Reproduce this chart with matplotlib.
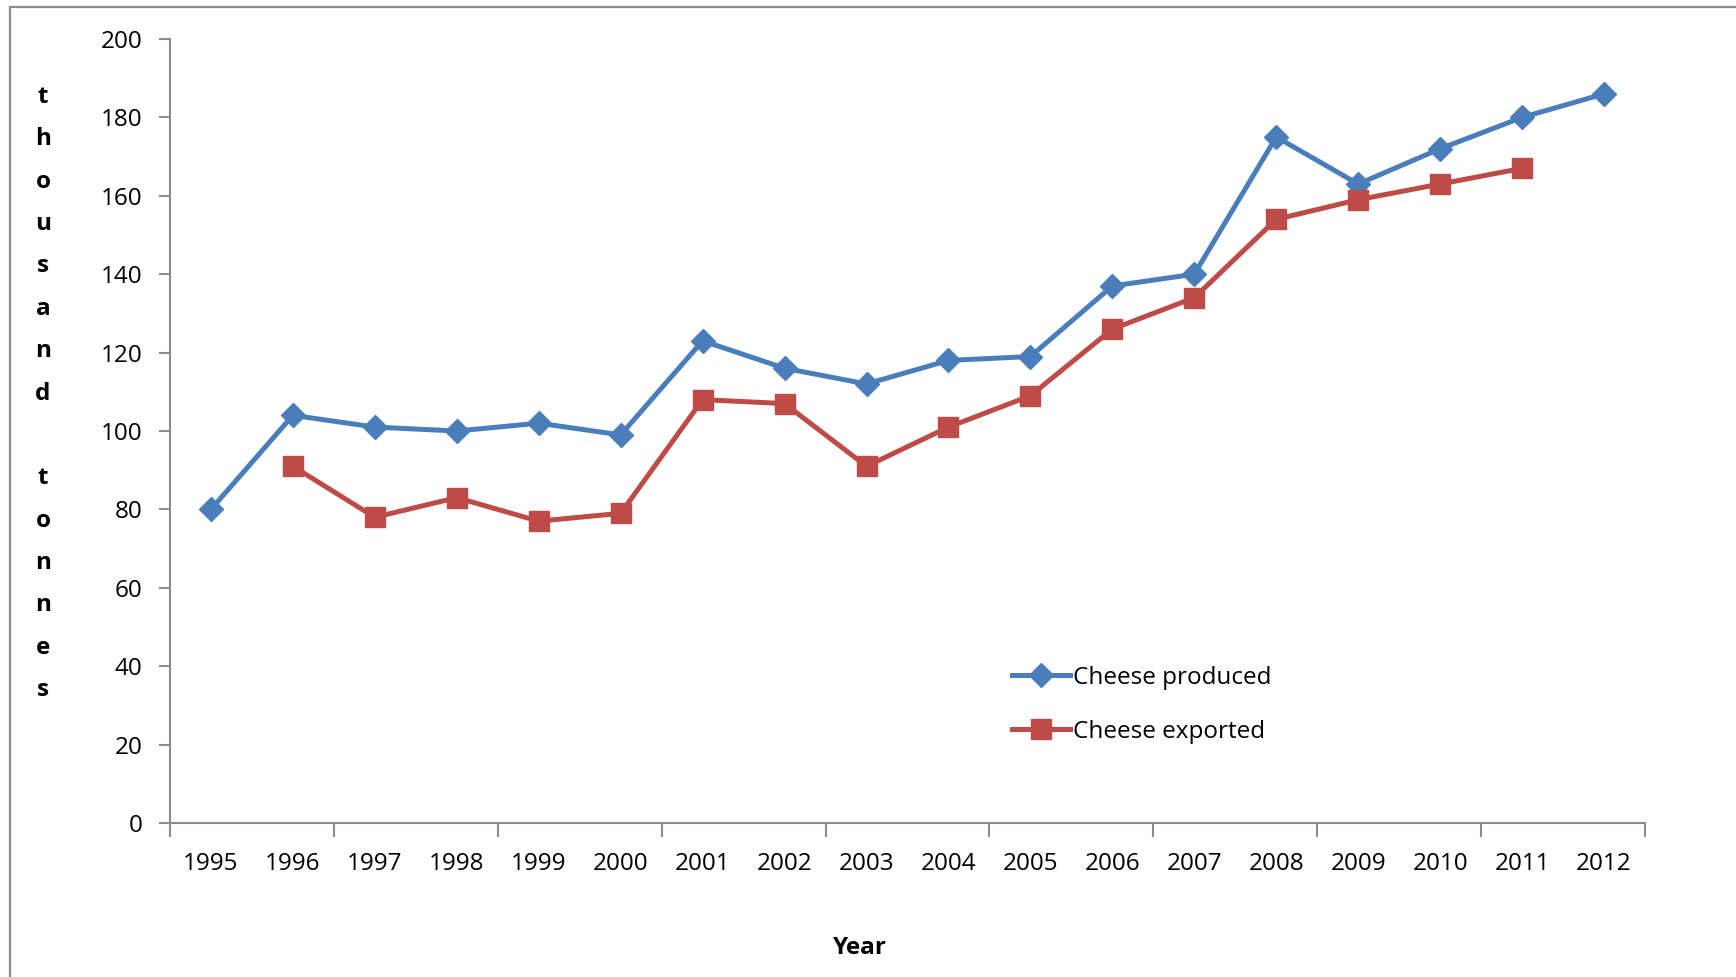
import matplotlib.pyplot as plt
from matplotlib.patches import Rectangle
import numpy as np

years = ['1995', '1996', '1997', '1998', '1999', '2000', '2001', '2002', '2003',
         '2004', '2005', '2006', '2007', '2008', '2009', '2010', '2011', '2012']
produced = [80, 104, 101, 100, 102, 99, 123, 116, 112, 118, 119, 137, 140, 175,
            163, 172, 180, 186]
exported = [np.nan, 91, 78, 83, 77, 79, 108, 107, 91, 101, 109, 126, 134, 154,
            159, 163, 167, np.nan]

plt.rcParams['font.family'] = ['Open Sans', 'DejaVu Sans']
fs = 17.5

fig = plt.figure(figsize=(17.36, 9.77), dpi=100)
ax = fig.add_axes([0.0979, 0.1576, 0.8497, 0.8025])

x = np.arange(len(years))
ax.plot(x, produced, color='#4A7EBB', lw=3.6, marker='D', markersize=12,
        label='Cheese produced')
ax.plot(x, exported, color='#BE4B48', lw=3.6, marker='s', markersize=15,
        label='Cheese exported')

ax.set_xlim(-0.5, len(years) - 0.5)
ax.set_ylim(0, 200)
ax.set_yticks(range(0, 201, 20))

# tick marks every two years on the boundaries, labels centred under points
ax.set_xticks(np.arange(-0.5, len(years), 2))
ax.set_xticklabels([])
ax.set_xticks(x, minor=True)
ax.set_xticklabels(years, minor=True)
ax.tick_params(axis='x', which='major', direction='out', length=10, width=1.5,
               color='#8c8c8c')
ax.tick_params(axis='x', which='minor', length=0, pad=21, labelsize=fs)
ax.tick_params(axis='y', direction='out', length=8, width=1.5, color='#8c8c8c',
               pad=12, labelsize=fs)

for s in ['top', 'right']:
    ax.spines[s].set_visible(False)
for s in ['left', 'bottom']:
    ax.spines[s].set_color('#8c8c8c')
    ax.spines[s].set_linewidth(1.5)

fig.text(860 / 1736, 1 - 948 / 977, 'Year', ha='center', va='center',
         fontsize=fs, fontweight='bold')

# vertical stacked axis title
letters = list('thousand') + [''] + list('tonnes')
fig.text(0.0248, 1 - 85 / 977, '\n'.join(letters), ha='center', va='top',
         fontsize=fs, fontweight='bold', linespacing=2.02)

ax.legend(loc='upper left', bbox_to_anchor=(990 / 1736, 1 - 644 / 977),
          bbox_transform=fig.transFigure, frameon=False, fontsize=fs,
          handlelength=2.4, handletextpad=0.1, labelspacing=1.22)

# outer chart border
fig.patches.append(Rectangle((10 / 1736, -0.1), 1.2, 1 - 7 / 977 + 0.1,
                             transform=fig.transFigure, fill=False,
                             edgecolor='#8c8c8c', lw=1.6))

fig.savefig('out.png', dpi=100)
